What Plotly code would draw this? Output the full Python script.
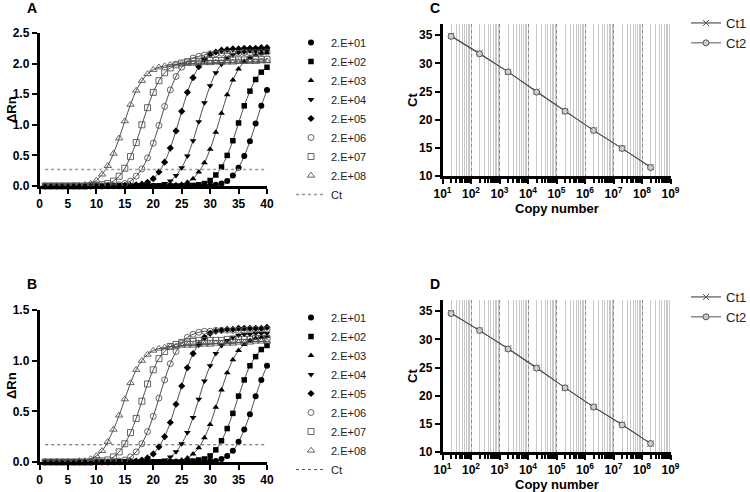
import plotly.graph_objects as go

W, H = 750, 492

cycles = list(range(1, 41))
series_names = ["2.E+01", "2.E+02", "2.E+03", "2.E+04", "2.E+05", "2.E+06", "2.E+07", "2.E+08"]

# Panel A amplification (delta Rn per cycle)
A_2E01 = [0.0]*28 + [0.01, 0.01, 0.02, 0.04, 0.08, 0.17, 0.30, 0.49, 0.73, 1.02, 1.31, 1.57]
A_2E02 = [0.0]*25 + [0.01, 0.01, 0.02, 0.04, 0.09, 0.18, 0.31, 0.50, 0.74, 1.03, 1.31, 1.55, 1.74, 1.86, 1.94]
A_2E03 = [0.0]*21 + [0.01, 0.01, 0.02, 0.03, 0.06, 0.12, 0.23, 0.38, 0.60, 0.88, 1.19, 1.49, 1.73, 1.91, 2.03,
                     2.10, 2.14, 2.17, 2.18]
A_2E04 = [0.0]*18 + [0.01, 0.01, 0.02, 0.04, 0.08, 0.17, 0.30, 0.49, 0.74, 1.05, 1.36, 1.64, 1.85, 1.99, 2.09,
                     2.14, 2.18, 2.19, 2.21, 2.21, 2.22, 2.22]
A_2E05 = [0.0]*14 + [0.01, 0.01, 0.02, 0.03, 0.06, 0.12, 0.23, 0.39, 0.62, 0.90, 1.22, 1.53, 1.77, 1.95, 2.07,
                     2.15, 2.19, 2.22, 2.23, 2.24, 2.24, 2.25, 2.25, 2.25, 2.26, 2.26]
A_2E06 = [0.0]*11 + [0.01, 0.01, 0.02, 0.04, 0.08, 0.16, 0.28, 0.46, 0.70, 0.99, 1.30, 1.57, 1.79, 1.94, 2.03,
                     2.09, 2.12, 2.14, 2.16, 2.16, 2.17, 2.17, 2.17, 2.17, 2.18, 2.18, 2.18, 2.18, 2.19]
A_2E07 = [0.0]*8 + [0.01, 0.01, 0.02, 0.04, 0.08, 0.16, 0.29, 0.48, 0.71, 1.00, 1.28, 1.53, 1.72, 1.85, 1.93,
                    1.98, 2.01, 2.03, 2.04, 2.04, 2.05, 2.05, 2.05, 2.05, 2.06, 2.06, 2.06, 2.06, 2.07, 2.07,
                    2.07, 2.07]
A_2E08 = [0.0]*5 + [0.01, 0.01, 0.02, 0.04, 0.09, 0.19, 0.33, 0.53, 0.78, 1.06, 1.33, 1.56, 1.72, 1.83, 1.90,
                    1.94, 1.96, 1.98, 1.99, 2.00, 2.00, 2.00, 2.01, 2.01, 2.01, 2.02, 2.02, 2.02, 2.02, 2.03,
                    2.03, 2.03, 2.03, 2.04, 2.04]
A_ct = 0.27

# Panel B amplification
B_2E01 = [0.0]*28 + [0.01, 0.01, 0.01, 0.03, 0.06, 0.11, 0.20, 0.32, 0.47, 0.65, 0.81, 0.95]
B_2E02 = [0.0]*25 + [0.01, 0.01, 0.02, 0.03, 0.06, 0.12, 0.21, 0.33, 0.48, 0.65, 0.81, 0.95, 1.04, 1.11, 1.15]
B_2E03 = [0.0]*22 + [0.01, 0.01, 0.02, 0.04, 0.08, 0.14, 0.24, 0.37, 0.54, 0.71, 0.88, 1.01, 1.10, 1.16, 1.20,
                     1.22, 1.23, 1.24]
B_2E04 = [0.0]*19 + [0.01, 0.01, 0.02, 0.05, 0.10, 0.18, 0.29, 0.44, 0.62, 0.80, 0.95, 1.07, 1.15, 1.20, 1.23,
                     1.25, 1.26, 1.26, 1.27, 1.27, 1.27]
B_2E05 = [0.0]*15 + [0.01, 0.01, 0.02, 0.04, 0.08, 0.15, 0.25, 0.39, 0.57, 0.75, 0.93, 1.07, 1.16, 1.23, 1.27,
                     1.29, 1.30, 1.31, 1.31, 1.32, 1.32, 1.32, 1.32, 1.32, 1.33]
B_2E06 = [0.0]*12 + [0.01, 0.01, 0.02, 0.05, 0.10, 0.18, 0.30, 0.45, 0.63, 0.81, 0.97, 1.09, 1.17, 1.23, 1.26,
                     1.28, 1.29, 1.29, 1.30, 1.30, 1.30, 1.30, 1.30, 1.30, 1.31, 1.31, 1.31, 1.31]
B_2E07 = [0.0]*9 + [0.01, 0.01, 0.02, 0.05, 0.10, 0.18, 0.29, 0.43, 0.60, 0.77, 0.91, 1.02, 1.09, 1.14, 1.16,
                    1.18, 1.19, 1.19, 1.20, 1.20, 1.20, 1.20, 1.20, 1.21, 1.21, 1.21, 1.21, 1.21, 1.22, 1.22,
                    1.22]
B_2E08 = [0.0]*6 + [0.01, 0.01, 0.03, 0.06, 0.11, 0.20, 0.32, 0.46, 0.62, 0.78, 0.91, 1.00, 1.06, 1.10, 1.12,
                    1.13, 1.14, 1.14, 1.15, 1.15, 1.15, 1.16, 1.16, 1.16, 1.17, 1.17, 1.17, 1.17, 1.18, 1.18,
                    1.18, 1.19, 1.19, 1.19]
B_ct = 0.17

# Standard curves
copies = [2e1, 2e2, 2e3, 2e4, 2e5, 2e6, 2e7, 2e8]
C_ct1 = [34.9, 31.8, 28.5, 25.0, 21.5, 18.1, 14.9, 11.6]
C_ct2 = [34.8, 31.7, 28.5, 24.9, 21.5, 18.1, 14.9, 11.5]
D_ct1 = [34.7, 31.6, 28.4, 25.0, 21.4, 18.0, 14.9, 11.5]
D_ct2 = [34.6, 31.6, 28.3, 24.9, 21.4, 18.0, 14.8, 11.5]

log_tickvals = [1e1, 1e2, 1e3, 1e4, 1e5, 1e6, 1e7, 1e8, 1e9]
log_ticktext = ["10<sup>1</sup>", "10<sup>2</sup>", "10<sup>3</sup>", "10<sup>4</sup>", "10<sup>5</sup>",
                "10<sup>6</sup>", "10<sup>7</sup>", "10<sup>8</sup>", "10<sup>9</sup>"]

FONT = "Liberation Sans, Arial, sans-serif"

styles = [
    dict(symbol="circle", size=6, color="black", line=dict(width=0)),
    dict(symbol="square", size=5.5, color="black", line=dict(width=0)),
    dict(symbol="triangle-up", size=6, color="black", line=dict(width=0)),
    dict(symbol="triangle-down", size=6, color="black", line=dict(width=0)),
    dict(symbol="diamond", size=5.5, color="black", line=dict(width=0)),
    dict(symbol="circle-open", size=6, color="#555555", line=dict(width=0.9)),
    dict(symbol="square-open", size=6, color="#555555", line=dict(width=0.9)),
    dict(symbol="triangle-up-open", size=6.5, color="#555555", line=dict(width=0.9)),
]

fig = go.Figure()

def add_amp(data, ct, xa, ya, leg, ctcolor, ctwidth):
    for i, (name, vals) in enumerate(zip(series_names, data)):
        fig.add_trace(go.Scatter(x=cycles, y=vals, mode="lines", line=dict(color="#222222", width=0.8, shape="spline"),
                                 xaxis=xa, yaxis=ya, showlegend=False, hoverinfo="skip", cliponaxis=False))
    for i, (name, vals) in enumerate(zip(series_names, data)):
        fig.add_trace(go.Scatter(x=cycles, y=vals, mode="markers", marker=styles[i], name=name,
                                 xaxis=xa, yaxis=ya, legend=leg, cliponaxis=False))
    fig.add_trace(go.Scatter(x=[1, 40], y=[ct, ct], mode="lines", name="Ct",
                             line=dict(color=ctcolor, width=ctwidth, dash="dot"),
                             xaxis=xa, yaxis=ya, legend=leg))

add_amp([A_2E01, A_2E02, A_2E03, A_2E04, A_2E05, A_2E06, A_2E07, A_2E08], A_ct, "x", "y", "legend", "#999999", 1.4)
add_amp([B_2E01, B_2E02, B_2E03, B_2E04, B_2E05, B_2E06, B_2E07, B_2E08], B_ct, "x2", "y2", "legend2", "#444444", 0.9)

def add_std(ct1, ct2, xa, ya, leg):
    fig.add_trace(go.Scatter(x=copies, y=ct1, mode="lines+markers", name="Ct1",
                             line=dict(color="#333333", width=1),
                             marker=dict(symbol="x-thin", size=6, color="#555555", line=dict(width=1, color="#555555")),
                             xaxis=xa, yaxis=ya, legend=leg, cliponaxis=False))
    fig.add_trace(go.Scatter(x=copies, y=ct2, mode="lines+markers", name="Ct2",
                             line=dict(color="#555555", width=1),
                             marker=dict(symbol="circle", size=6, color="#cccccc", line=dict(width=1, color="#555555")),
                             xaxis=xa, yaxis=ya, legend=leg, cliponaxis=False))

add_std(C_ct1, C_ct2, "x3", "y3", "legend3")
add_std(D_ct1, D_ct2, "x4", "y4", "legend4")

def px_x(p):
    return p / W

def px_y(p):
    return 1 - p / H

tickfont = dict(family=FONT, size=12, color="black", weight="bold")
axcommon = dict(showline=True, linecolor="black", linewidth=2.5, ticks="outside", ticklen=5, tickwidth=2,
                tickcolor="black", showgrid=False, zeroline=False, tickfont=tickfont)

amp_x = dict(range=[0, 40], tickmode="linear", tick0=0, dtick=5, domain=[px_x(39.5), px_x(267)], **axcommon)
fig.update_layout(
    xaxis=dict(anchor="y", **amp_x),
    yaxis=dict(anchor="x", range=[0, 2.5], dtick=0.5, tickformat=".1f", domain=[px_y(186), px_y(33)], **axcommon),
    xaxis2=dict(anchor="y2", **amp_x),
    yaxis2=dict(anchor="x2", range=[0, 1.5], dtick=0.5, tickformat=".1f", domain=[px_y(462), px_y(310)], **axcommon),
)

def log_axis(anchor):
    return dict(anchor=anchor, type="log", range=[1, 9], tickmode="array", tickvals=log_tickvals,
                ticktext=log_ticktext, domain=[px_x(442.5), px_x(670.5)],
                showgrid=True, gridcolor="#8a8a8a", gridwidth=1, griddash="dot",
                minor=dict(tickmode="linear", dtick="D1", ticks="outside", ticklen=4, tickwidth=2,
                           tickcolor="black", showgrid=True, gridcolor="#c8c8c8", gridwidth=1, griddash="solid"),
                showline=True, linecolor="black", linewidth=2.5, ticks="outside", ticklen=5, tickwidth=2,
                tickcolor="black", zeroline=False, tickfont=tickfont, layer="below traces")

fig.update_layout(
    xaxis3=log_axis("y3"),
    yaxis3=dict(anchor="x3", range=[10, 37], tickmode="linear", tick0=10, dtick=5, domain=[px_y(176), px_y(24)], **axcommon),
    xaxis4=log_axis("y4"),
    yaxis4=dict(anchor="x4", range=[10, 37], tickmode="linear", tick0=10, dtick=5, domain=[px_y(452), px_y(300)], **axcommon),
)

legfont = dict(family=FONT, size=11, color="#222222")
leg_common = dict(bgcolor="rgba(0,0,0,0)", borderwidth=0, xanchor="left", yanchor="top", tracegroupgap=0,
                  itemsizing="trace")
fig.update_layout(
    legend=dict(x=px_x(291), y=px_y(28), font=legfont, **leg_common),
    legend2=dict(x=px_x(291), y=px_y(303), font=legfont, **leg_common),
    legend3=dict(x=px_x(686), y=px_y(8), font=dict(family=FONT, size=13, color="#222222"), **leg_common),
    legend4=dict(x=px_x(686), y=px_y(282), font=dict(family=FONT, size=13, color="#222222"), **leg_common),
)

ann = []
def label(text, x, y, size=13, angle=0):
    ann.append(dict(text=text, x=px_x(x), y=px_y(y), xref="paper", yref="paper", showarrow=False,
                    font=dict(family=FONT, size=size, color="black", weight="bold"), textangle=angle,
                    xanchor="center", yanchor="middle"))

label("A", 32, 8, 14)
label("B", 32, 284, 14)
label("C", 435, 8, 14)
label("D", 435, 284, 14)
label("ΔRn", 11, 110, 13, -90)
label("ΔRn", 11, 386, 13, -90)
label("Ct", 412, 100, 13, -90)
label("Ct", 412, 376, 13, -90)
label("Copy number", 557, 208, 13)
label("Copy number", 557, 484, 13)

fig.update_layout(annotations=ann, width=W, height=H,
                  margin=dict(l=0, r=0, t=0, b=0, pad=0, autoexpand=False),
                  plot_bgcolor="white", paper_bgcolor="white", showlegend=True)

fig.write_html("out.html", config={"displayModeBar": False},
               post_script="document.body.style.margin='0px';document.body.style.overflow='hidden';")
